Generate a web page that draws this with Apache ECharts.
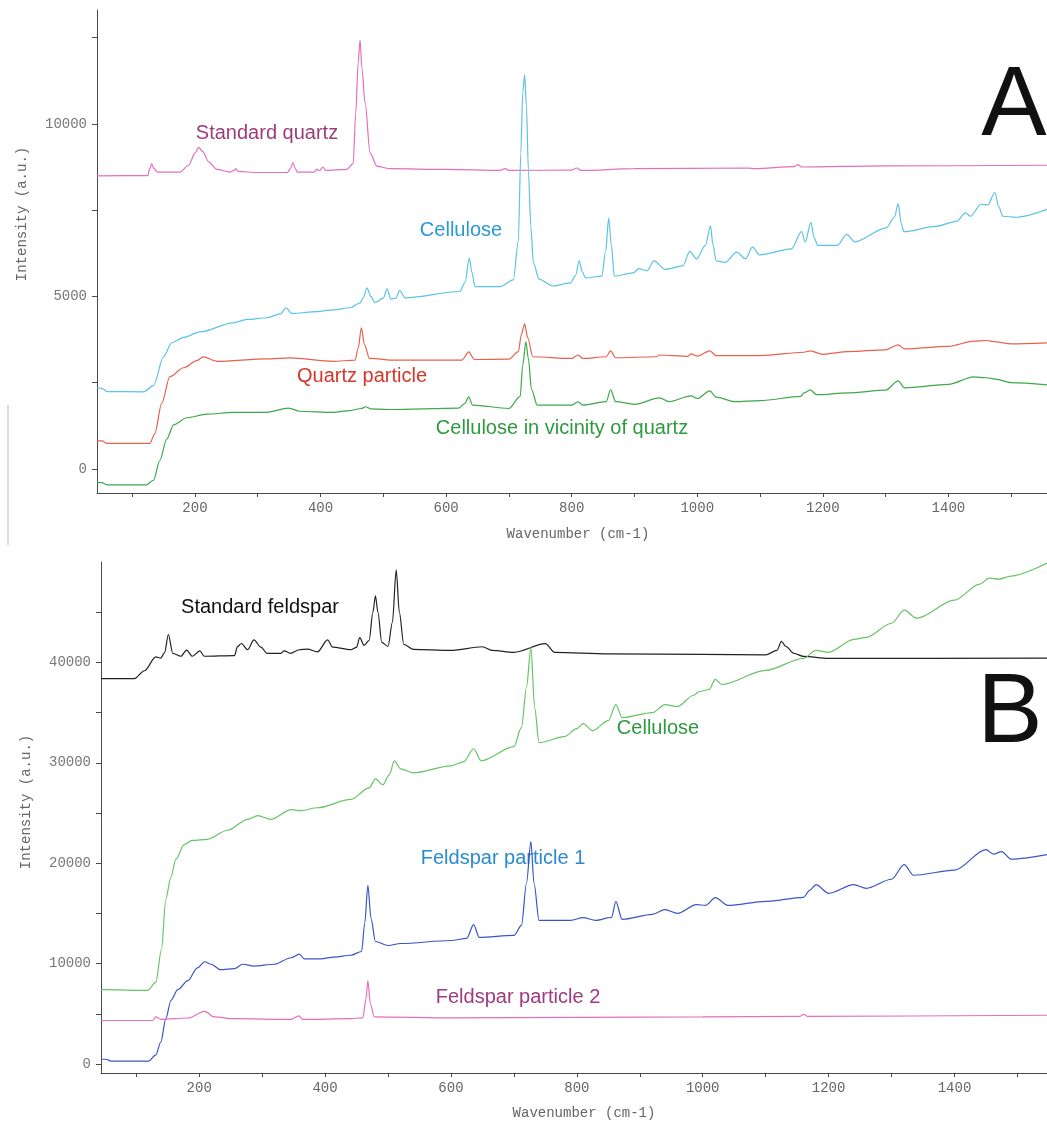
<!DOCTYPE html>
<html>
<head>
<meta charset="utf-8">
<script src="https://cdn.jsdelivr.net/npm/echarts@6/dist/echarts.min.js"></script>
<style>
  html, body { margin: 0; padding: 0; background: #fff; }
  #chart { width: 1047px; height: 1124px; }
</style>
</head>
<body>
<div id="chart"></div>
<script>
// ---- Panel A: quartz ----
var quartzStdX = [44, 125, 128, 131, 135, 140, 176, 190, 200, 206, 212, 222, 235, 256, 262, 265, 269, 300, 347, 352, 356, 360, 363, 390, 394, 398, 404, 408, 442, 452, 456, 460, 463, 466, 471, 479, 490, 511, 600, 686, 694, 700, 800, 808, 815, 900, 1082, 1090, 1155, 1160, 1166, 1300, 1557];
var quartzStdY = [8490, 8500, 8700, 8840, 8700, 8600, 8600, 8800, 9150, 9320, 9200, 8900, 8680, 8600, 8650, 8700, 8620, 8590, 8590, 8700, 8880, 8700, 8600, 8600, 8690, 8640, 8750, 8650, 8680, 8850, 10300, 11800, 12430, 11600, 10600, 9150, 8770, 8700, 8680, 8650, 8700, 8650, 8660, 8720, 8650, 8700, 8720, 8700, 8760, 8820, 8750, 8780, 8800];

var celluAX = [44, 52, 60, 118, 134, 150, 163, 182, 208, 261, 283, 314, 336, 345, 354, 394, 420, 447, 463, 468, 474, 480, 487, 500, 506, 512, 520, 526, 535, 622, 630, 637, 641, 646, 686, 707, 715, 719, 722, 725, 728, 731, 735, 739, 748, 770, 798, 806, 812, 817, 822, 848, 854, 859, 863, 868, 898, 907, 920, 931, 949, 977, 988, 999, 1013, 1021, 1025, 1030, 1044, 1063, 1077, 1088, 1099, 1150, 1166, 1172, 1181, 1186, 1192, 1223, 1238, 1251, 1301, 1314, 1320, 1325, 1329, 1379, 1413, 1427, 1435, 1452, 1463, 1474, 1480, 1487, 1508, 1557];
var celluAY = [2350, 2330, 2240, 2232, 2414, 3246, 3655, 3811, 3970, 4232, 4330, 4380, 4490, 4670, 4504, 4560, 4609, 4670, 4812, 4950, 5246, 5000, 4820, 4950, 5217, 4918, 4950, 5168, 4957, 5140, 5400, 6106, 5700, 5284, 5284, 5478, 6600, 9150, 10900, 11420, 10500, 8667, 7000, 5970, 5500, 5300, 5391, 5600, 6029, 5700, 5536, 5585, 6300, 7275, 6500, 5585, 5681, 5803, 5739, 6029, 5783, 5884, 6301, 6087, 6478, 7043, 6500, 6029, 5983, 6281, 6087, 6435, 6203, 6377, 6875, 6580, 7145, 6700, 6478, 6478, 6797, 6580, 6985, 7300, 7690, 7100, 6875, 7026, 7174, 7420, 7322, 7670, 7652, 8017, 7600, 7322, 7293, 7522];

var quartzPartX = [44, 52, 60, 128, 136, 147, 160, 182, 203, 213, 235, 314, 352, 420, 455, 460, 465, 470, 478, 520, 625, 636, 645, 700, 715, 720, 725, 730, 738, 800, 810, 818, 855, 862, 870, 935, 940, 985, 990, 1000, 1020, 1030, 1100, 1170, 1180, 1200, 1240, 1300, 1320, 1330, 1400, 1440, 1460, 1475, 1500, 1557];
var quartzPartY = [811, 811, 736, 736, 1015, 1896, 2672, 2930, 3139, 3246, 3118, 3188, 3217, 3118, 3150, 3500, 4090, 3600, 3200, 3150, 3150, 3390, 3170, 3180, 3400, 3900, 4200, 3800, 3250, 3200, 3300, 3200, 3250, 3420, 3220, 3250, 3300, 3260, 3330, 3270, 3420, 3280, 3280, 3380, 3420, 3320, 3400, 3450, 3594, 3480, 3550, 3700, 3720, 3680, 3620, 3650];

var celluNearX = [44, 52, 60, 123, 134, 144, 155, 166, 187, 219, 261, 314, 349, 367, 420, 447, 465, 472, 480, 510, 620, 630, 636, 642, 700, 718, 722, 727, 731, 736, 745, 800, 810, 818, 855, 862, 870, 900, 940, 955, 990, 1000, 1020, 1030, 1060, 1100, 1165, 1170, 1180, 1190, 1240, 1300, 1320, 1330, 1400, 1440, 1460, 1475, 1500, 1557];
var celluNearY = [-400, -402, -464, -464, -330, 240, 860, 1275, 1481, 1585, 1638, 1638, 1762, 1670, 1638, 1690, 1750, 1800, 1740, 1720, 1760, 1900, 2087, 1850, 1750, 2100, 3000, 3680, 3200, 2300, 1850, 1850, 1942, 1850, 1950, 2290, 1950, 1870, 2058, 1950, 2116, 2040, 2260, 2080, 1950, 1980, 2100, 2200, 2290, 2150, 2200, 2280, 2550, 2350, 2450, 2667, 2640, 2600, 2500, 2435];

// ---- Panel B: feldspar ----
var feldStdX = [44, 97, 113, 131, 139, 145, 151, 158, 171, 180, 189, 201, 208, 256, 261, 267, 277, 287, 298, 308, 330, 335, 345, 359, 372, 388, 404, 412, 441, 450, 455, 462, 470, 476, 480, 484, 490, 500, 507, 513, 518, 525, 540, 600, 650, 665, 700, 750, 765, 850, 1000, 1100, 1118, 1125, 1132, 1145, 1160, 1200, 1547];
var feldStdY = [38374, 38374, 39170, 40540, 40430, 40970, 42780, 40900, 40610, 41230, 40610, 41150, 40610, 40680, 41590, 41880, 41260, 42240, 41520, 40900, 40900, 41150, 40900, 41260, 41330, 41050, 42240, 41520, 41260, 41500, 42460, 41700, 42200, 45000, 46640, 45000, 42000, 41600, 44000, 49230, 45000, 41800, 41300, 41200, 41560, 41200, 41000, 41860, 41000, 40850, 40800, 40750, 41200, 42100, 41600, 40900, 40600, 40400, 40420];

var celluBX = [44, 52, 118, 131, 140, 147, 155, 163, 176, 189, 213, 245, 277, 293, 314, 346, 361, 388, 441, 470, 480, 492, 502, 510, 520, 540, 600, 620, 636, 648, 700, 712, 720, 727, 733, 740, 780, 800, 810, 825, 850, 862, 872, 920, 940, 960, 985, 995, 1010, 1020, 1030, 1100, 1160, 1180, 1200, 1240, 1260, 1300, 1320, 1340, 1400, 1440, 1455, 1470, 1490, 1547];
var celluBY = [7400, 7400, 7330, 8123, 11370, 16430, 18590, 20400, 21840, 22270, 22380, 23280, 24370, 24730, 24370, 25340, 25230, 25520, 26350, 27500, 28400, 27800, 28800, 30200, 29400, 29000, 29700, 30100, 31400, 30200, 31600, 33500, 37500, 41500, 35500, 32000, 32600, 33400, 33900, 33200, 34200, 35800, 34500, 35000, 35800, 35600, 36700, 37100, 37300, 38300, 37800, 39200, 40400, 41200, 41000, 42300, 42500, 43900, 45200, 44400, 46200, 47800, 48400, 48300, 48600, 49900];

var feld1X = [44, 52, 60, 120, 131, 139, 147, 155, 166, 182, 197, 209, 219, 234, 256, 269, 287, 319, 346, 359, 367, 393, 414, 441, 458, 463, 468, 473, 480, 500, 520, 600, 625, 636, 645, 700, 712, 720, 727, 732, 740, 790, 810, 830, 855, 862, 872, 920, 940, 960, 990, 1005, 1020, 1040, 1100, 1160, 1170, 1180, 1200, 1240, 1260, 1300, 1320, 1335, 1400, 1450, 1462, 1475, 1490, 1547];
var feld1Y = [470, 470, 290, 290, 900, 2166, 4510, 6320, 7400, 8300, 9570, 10180, 9930, 9390, 9500, 9930, 9750, 9930, 10580, 10940, 10470, 10470, 10650, 10830, 11200, 14000, 17800, 14500, 12200, 11800, 12000, 12300, 12500, 13880, 12600, 12800, 13800, 18000, 22150, 18000, 14300, 14300, 14580, 14300, 14600, 16170, 14400, 14900, 15370, 15000, 15870, 15800, 16570, 15800, 16200, 16600, 17300, 17860, 17000, 17860, 17500, 18400, 19850, 18800, 19300, 21350, 20900, 21150, 20400, 20850];

var feld2X = [44, 126, 131, 139, 182, 209, 224, 256, 346, 359, 364, 441, 460, 465, 468, 472, 478, 600, 1000, 1155, 1160, 1166, 1547];
var feld2Y = [4330, 4330, 4690, 4440, 4580, 5230, 4690, 4510, 4440, 4800, 4440, 4510, 4600, 6500, 8300, 6000, 4700, 4600, 4700, 4750, 4950, 4750, 4850];

// ---- axis ticks ----
var xTicks = [100, 200, 300, 400, 500, 600, 700, 800, 900, 1000, 1100, 1200, 1300, 1400, 1500];
var xLabels = [200, 400, 600, 800, 1000, 1200, 1400];
var yTicksA = [0, 2500, 5000, 7500, 10000, 12500];
var yLabelsA = [0, 5000, 10000];
var yTicksB = [0, 5000, 10000, 15000, 20000, 25000, 30000, 35000, 40000, 45000];
var yLabelsB = [0, 10000, 20000, 30000, 40000];

function pairs(xs, ys) {
    return xs.map(function(x, i) { return [x, ys[i]]; });
}

var monoFont = 'Liberation Mono';
var axisCol = '#4a4a4a';
var plain = function(v) { return String(v); };

function xAxisCfg(idx, max) {
    return {
        type: 'value', gridIndex: idx, min: 44, max: max,
        axisLine: { show: true, onZero: false, lineStyle: { color: axisCol, width: 1 } },
        axisTick: { show: true, length: 4, customValues: xTicks, lineStyle: { color: axisCol } },
        axisLabel: { customValues: xLabels, formatter: plain, margin: 8, fontFamily: monoFont, fontSize: 14, color: '#666' },
        splitLine: { show: false }
    };
}
function yAxisCfg(idx, min, max, ticks, labels) {
    return {
        type: 'value', gridIndex: idx, min: min, max: max,
        axisLine: { show: true, onZero: false, lineStyle: { color: axisCol, width: 1 } },
        axisTick: { show: true, length: 5, customValues: ticks, lineStyle: { color: axisCol } },
        axisLabel: { customValues: labels, formatter: plain, margin: 10, fontFamily: monoFont, fontSize: 14, color: '#777' },
        splitLine: { show: false }
    };
}
function lineSeries(name, xi, data, color) {
    return {
        name: name, type: 'line', xAxisIndex: xi, yAxisIndex: xi,
        data: data, showSymbol: false, smooth: 0.3, smoothMonotone: 'x',
        lineStyle: { color: color, width: 1.2 }, animation: false
    };
}
function txt(s, x, y, color, size, rot) {
    return {
        type: 'text', x: x, y: y, rotation: rot || 0,
        style: { text: s, fill: color, font: size, align: 'center', verticalAlign: 'middle' }
    };
}

var chart = echarts.init(document.getElementById('chart'));
var option = {
    backgroundColor: '#fff',
    animation: false,
    grid: [
        { left: 97, top: 10, width: 950, height: 483 },
        { left: 101, top: 562, width: 946, height: 511 }
    ],
    xAxis: [xAxisCfg(0, 1557), xAxisCfg(1, 1547)],
    yAxis: [
        yAxisCfg(0, -700, 13300, yTicksA, yLabelsA),
        yAxisCfg(1, -900, 50000, yTicksB, yLabelsB)
    ],
    series: [
        lineSeries('Standard quartz', 0, pairs(quartzStdX, quartzStdY), '#e46fbb'),
        lineSeries('Cellulose', 0, pairs(celluAX, celluAY), '#5cc3e4'),
        lineSeries('Quartz particle', 0, pairs(quartzPartX, quartzPartY), '#e8604e'),
        lineSeries('Cellulose in vicinity of quartz', 0, pairs(celluNearX, celluNearY), '#3ea84a'),
        lineSeries('Standard feldspar', 1, pairs(feldStdX, feldStdY), '#222222'),
        lineSeries('Cellulose', 1, pairs(celluBX, celluBY), '#66c466'),
        lineSeries('Feldspar particle 1', 1, pairs(feld1X, feld1Y), '#3a55c4'),
        lineSeries('Feldspar particle 2', 1, pairs(feld2X, feld2Y), '#e46fbb')
    ],
    graphic: [
        { type: 'line', shape: { x1: 8, y1: 405, x2: 8, y2: 545 }, style: { stroke: '#bbb', lineWidth: 1 } },
        txt('Intensity (a.u.)', 22, 214, '#666', '14px ' + monoFont, Math.PI / 2),
        txt('Intensity (a.u.)', 26, 802, '#666', '14px ' + monoFont, Math.PI / 2),
        txt('Wavenumber (cm-1)', 578, 534, '#666', '14px ' + monoFont),
        txt('Wavenumber (cm-1)', 584, 1113, '#666', '14px ' + monoFont),
        txt('A', 1014, 108, '#111', '98px Liberation Sans'),
        txt('B', 1010, 715, '#111', '98px Liberation Sans'),
        txt('Standard quartz', 267, 133, '#9c3c7c', '20px Liberation Sans'),
        txt('Cellulose', 461, 230, '#2a98d4', '20px Liberation Sans'),
        txt('Quartz particle', 362, 376, '#d6352a', '20px Liberation Sans'),
        txt('Cellulose in vicinity of quartz', 562, 428, '#2e9a3e', '20px Liberation Sans'),
        txt('Standard feldspar', 260, 607, '#111', '20px Liberation Sans'),
        txt('Cellulose', 658, 728, '#2e9a3e', '20px Liberation Sans'),
        txt('Feldspar particle 1', 503, 858, '#2a8ad0', '20px Liberation Sans'),
        txt('Feldspar particle 2', 518, 997, '#a03a80', '20px Liberation Sans')
    ]
};
chart.setOption(option);
</script>
</body>
</html>
